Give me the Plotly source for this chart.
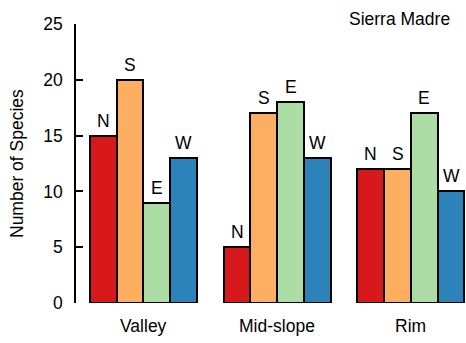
import plotly.graph_objects as go

# Species counts by slope position and aspect
sites = ["Valley", "Mid-slope", "Rim"]
aspects = ["N", "S", "E", "W"]
counts = {
    "N": [15, 5, 12],
    "S": [20, 17, 12],
    "E": [9, 18, 17],
    "W": [13, 13, 10],
}
colors = {"N": "#D7191C", "S": "#FDAE61", "E": "#ABDDA4", "W": "#2B83BA"}
y_ticks = [0, 5, 10, 15, 20, 25]

FONT = "Liberation Sans, Arial, sans-serif"
FS = 17.5

# barplot-style layout: bars of width 1, one unit of space between groups
def bar_x(g, d):
    return 1 + g * (len(aspects) + 1) + d + 0.5

# plot area in pixels (used to place free-standing text)
L, R_EDGE, TOP, BOTTOM = 76, 466, 24, 303
PW, PH = R_EDGE - L, BOTTOM - TOP

fig = go.Figure()
annotations = []
for d, a in enumerate(aspects):
    xs = [bar_x(g, d) for g in range(len(sites))]
    fig.add_trace(go.Bar(
        x=xs, y=counts[a], width=1, name=a,
        marker=dict(color=colors[a], line=dict(color="black", width=2)),
        showlegend=False, cliponaxis=False,
    ))
    for x, v in zip(xs, counts[a]):
        annotations.append(dict(x=x, y=v, text=a, showarrow=False, xref="x", yref="y",
                                yanchor="bottom", yshift=3,
                                font=dict(family=FONT, size=FS, color="black")))

for g, s in enumerate(sites):
    annotations.append(dict(x=(bar_x(g, 0) + bar_x(g, 3)) / 2, y=0, text=s, showarrow=False,
                            xref="x", yref="y", yanchor="middle", yshift=-23,
                            font=dict(family=FONT, size=FS, color="black")))

annotations.append(dict(x=(399 - L) / PW, y=(BOTTOM - 19) / PH, xref="x domain", yref="y domain",
                        text="Sierra Madre", showarrow=False, xanchor="center", yanchor="middle",
                        font=dict(family=FONT, size=FS, color="black")))

annotations.append(dict(x=(17 - L) / PW, y=(BOTTOM - 164) / PH, xref="x domain", yref="y domain",
                        text="Number of Species", showarrow=False, textangle=-90,
                        xanchor="center", yanchor="middle",
                        font=dict(family=FONT, size=FS, color="black")))

fig.update_layout(
    width=466, height=343,
    margin=dict(l=L, r=0, t=TOP, b=343 - BOTTOM, pad=0),
    plot_bgcolor="white", paper_bgcolor="white",
    bargap=0, barmode="overlay",
    annotations=annotations,
    xaxis=dict(range=[0.477, 0.477 + PW / 26.75], visible=False, fixedrange=True),
    yaxis=dict(range=[0, 25], tickvals=y_ticks, ticks="inside", ticklen=7, tickwidth=1.5,
               tickcolor="black", showline=True, linecolor="black", linewidth=1.5,
               showgrid=False, zeroline=False, ticklabelstandoff=8,
               tickfont=dict(family=FONT, size=FS, color="black")),
)

fig.write_html("out.html")
